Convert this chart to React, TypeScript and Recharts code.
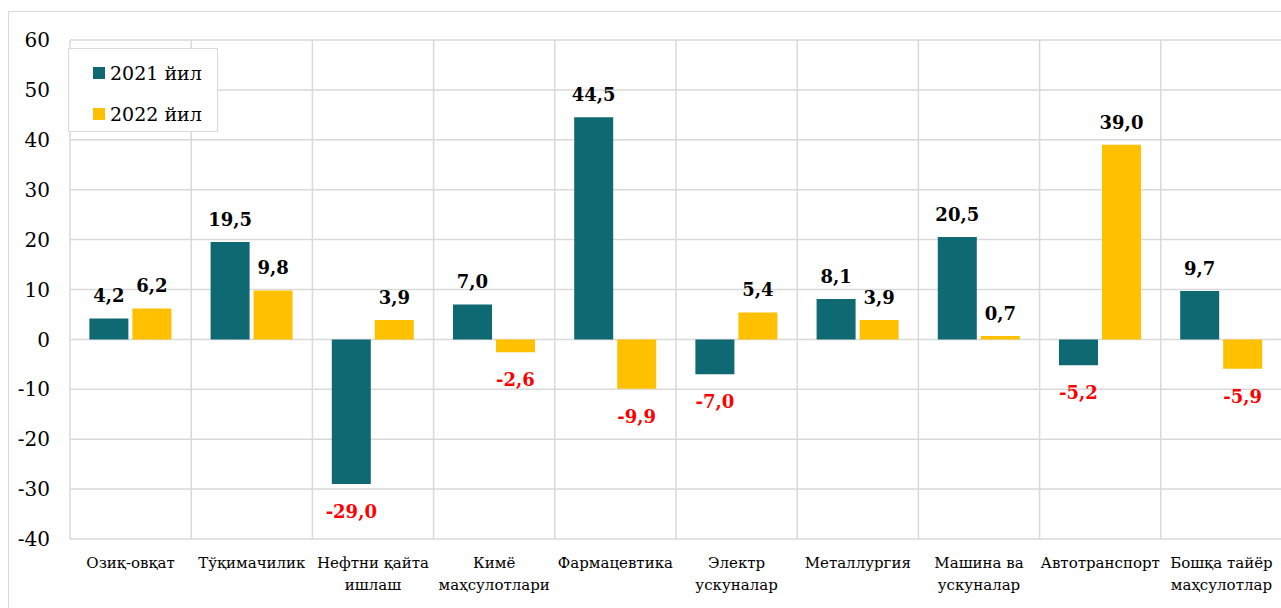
import { BarChart, Bar, XAxis, YAxis, CartesianGrid, Legend, LabelList } from 'recharts';

const categories = [
  'Озиқ-овқат',
  'Тўқимачилик',
  'Нефтни қайта\nишлаш',
  'Кимё\nмаҳсулотлари',
  'Фармацевтика',
  'Электр\nускуналар',
  'Металлургия',
  'Машина ва\nускуналар',
  'Автотранспорт',
  'Бошқа тайёр\nмаҳсулотлар',
];
const values2021 = [4.2, 19.5, -29.0, 7.0, 44.5, -7.0, 8.1, 20.5, -5.2, 9.7];
const values2022 = [6.2, 9.8, 3.9, -2.6, -9.9, 5.4, 3.9, 0.7, 39.0, -5.9];
const yTicks = [-40, -30, -20, -10, 0, 10, 20, 30, 40, 50, 60];
const seriesNames = ['2021 йил', '2022 йил'];

const TEAL = '#0E6973';
const GOLD = '#FFC000';
const FONT = '"DejaVu Serif", serif';

const data = categories.map((name, i) => ({
  name,
  y2021: values2021[i],
  y2022: values2022[i],
}));

const fmt = (v: number) => v.toFixed(1).replace('.', ',');

function ValueLabel(props: any) {
  const { x, y, width, height, value } = props;
  const top = Math.min(y, y + height);
  const bottom = Math.max(y, y + height);
  const neg = value < 0;
  return (
    <text
      x={x + width / 2}
      y={neg ? bottom + 34 : top - 16}
      textAnchor="middle"
      style={{ fontFamily: FONT, fontWeight: 'bold', fontSize: 18 }}
      fill={neg ? '#FF0000' : '#000000'}
    >
      {fmt(value)}
    </text>
  );
}

function CategoryTick(props: any) {
  const { x, y, payload } = props;
  const lines = String(payload.value).split('\n');
  return (
    <text x={x} y={y} textAnchor="middle" style={{ fontFamily: FONT, fontSize: 15 }} fill="#000">
      {lines.map((line, i) => (
        <tspan key={i} x={x} y={y + 29 + i * 22}>
          {line}
        </tspan>
      ))}
    </text>
  );
}

function LegendBox() {
  const colors = [TEAL, GOLD];
  return (
    <div
      style={{
        width: 150,
        height: 84,
        boxSizing: 'border-box',
        background: '#fff',
        border: '1px solid #d9d9d9',
        fontFamily: FONT,
        fontSize: 19,
        color: '#000',
        paddingTop: 3,
      }}
    >
      {seriesNames.map((n, i) => (
        <div key={n} style={{ display: 'flex', alignItems: 'center', height: 41, paddingLeft: 24 }}>
          <span style={{ width: 12, height: 12, background: colors[i], marginRight: 5, display: 'inline-block' }} />
          <span>{n}</span>
        </div>
      ))}
    </div>
  );
}

export default function App() {
  return (
    <div style={{ position: 'absolute', left: 0, top: 0, width: 1281, height: 608, overflow: 'hidden', background: '#fff', fontFamily: FONT }}>
      <div
        style={{
          position: 'absolute',
          left: 8,
          top: 11,
          width: 1290,
          height: 620,
          border: '1px solid #d9d9d9',
        }}
      />
      <div style={{ position: 'absolute', left: 0, top: 0 }}>
        <BarChart
          width={1290}
          height={608}
          data={data}
          margin={{ top: 40, right: 8, left: 0, bottom: 0 }}
          barCategoryGap="16%"
          barGap={4}
        >
          <CartesianGrid
            stroke="#d9d9d9"
            strokeWidth={1.5}
            verticalCoordinatesGenerator={({ offset }: any) =>
              Array.from({ length: categories.length + 1 }, (_, i) => offset.left + (i * offset.width) / categories.length)
            }
          />
          <XAxis
            dataKey="name"
            axisLine={false}
            tickLine={false}
            tickSize={0}
            tickMargin={0}
            height={69}
            interval={0}
            tick={<CategoryTick />}
          />
          <YAxis
            domain={[-40, 60]}
            ticks={yTicks}
            width={70}
            axisLine={false}
            tickLine={false}
            tickSize={0}
            tickMargin={20}
            tick={{ fontSize: 20, fill: '#000', style: { fontFamily: FONT } }}
          />
          <Legend
            layout="vertical"
            align="center"
            verticalAlign="middle"
            content={<LegendBox />}
            wrapperStyle={{ left: 68, top: 48, width: 150, height: 84 }}
          />
          <Bar dataKey="y2021" name={seriesNames[0]} fill={TEAL} isAnimationActive={false}>
            <LabelList dataKey="y2021" content={<ValueLabel />} />
          </Bar>
          <Bar dataKey="y2022" name={seriesNames[1]} fill={GOLD} isAnimationActive={false}>
            <LabelList dataKey="y2022" content={<ValueLabel />} />
          </Bar>
        </BarChart>
      </div>
    </div>
  );
}
